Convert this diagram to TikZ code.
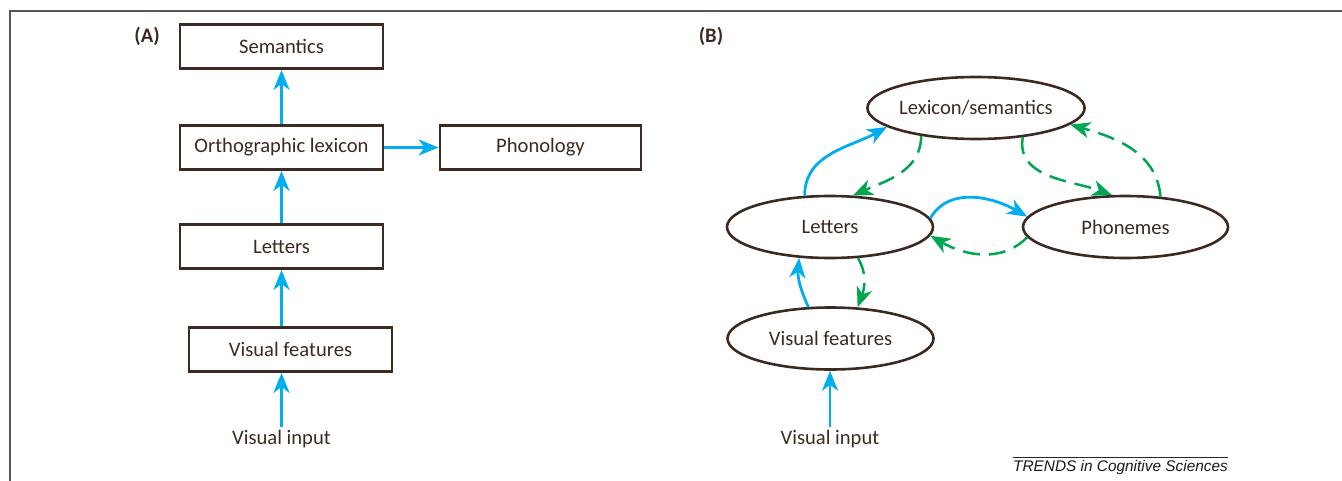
\documentclass[tikz,border=0pt]{standalone}
\usepackage{fontspec}
\setmainfont{Carlito}
\newfontfamily\trendsfont{Liberation Sans}
\usetikzlibrary{arrows.meta,shapes.geometric,calc}
\definecolor{ink}{HTML}{3C2A21}
\definecolor{cblue}{HTML}{00AEEF}
\definecolor{cgreen}{HTML}{00A651}
\definecolor{framegray}{HTML}{555555}
\begin{document}
\begin{tikzpicture}[x=0.5pt,y=0.5pt,
  lbl/.style={text=ink, font=\fontsize{10.3}{12}\selectfont, inner sep=0pt},
  boxA/.style={lbl, draw=ink, line width=1.4pt, minimum width=101.5pt, minimum height=22pt},
  ell/.style={lbl, ellipse, draw=ink, line width=1.3pt, minimum width=103pt, minimum height=31pt},
  tip/.style={-{Stealth[length=10pt,width=8pt,inset=3pt]}},
  barrow/.style={tip, draw=cblue, line width=1.4pt},
  garrow/.style={tip, draw=cgreen, line width=1.25pt, dash pattern=on 8.5pt off 4.5pt},
  panel/.style={text=ink, font=\fontsize{10.3}{12}\selectfont\bfseries, inner sep=0pt},
]
\useasboundingbox (0,0) rectangle (1342,-481);
\draw[framegray, line width=1pt] (1342,-11.5) -- (9.5,-11.5) -- (9.5,-481);

% Panel A
\node[panel] (labA) at (147,-36) {(A)};
\node[boxA] (sem) at (281.5,-46.5) {Semantics};
\node[boxA] (ortho) at (281.5,-147.5) {Orthographic lexicon};
\node[boxA, minimum width=100.5pt] (phon) at (540.5,-147.5) {Phonology};
\node[boxA] (letA) at (281.5,-246.5) {Letters};
\node[boxA] (vfA) at (290.5,-349.5) {Visual features};
\node[lbl, inner sep=1.5pt] (inA) at (281.5,-439.5) {Visual input};

\draw[barrow] (ortho) -- (sem);
\draw[barrow] (ortho) -- (phon);
\draw[barrow] (letA) -- (ortho);
\draw[barrow] (letA.south |- vfA.north) -- (letA.south);
\draw[barrow] (inA.north) -- (inA.north |- vfA.south);

% Panel B
\node[panel] (labB) at (711,-36) {(B)};
\node[ell, minimum width=103pt] (lex) at (976,-108) {Lexicon/semantics};
\node[ell] (letB) at (830,-227) {Letters};
\node[ell, minimum width=102.5pt] (phn) at (1125.5,-227) {Phonemes};
\node[ell] (vfB) at (830.5,-338.5) {Visual features};
\node[lbl, inner sep=1.5pt] (inB) at (830,-439.5) {Visual input};

\draw[barrow] (letB.129) to[out=90,in=209] (lex.192);
\draw[garrow] (lex.207) to[out=-90,in=24] (letB.54);
\draw[garrow] (lex.328) to[out=-100,in=160] (phn.113);
\draw[garrow] (phn.41) to[out=95,in=-16] (lex.350);
\draw[barrow] (letB.5) to[out=60,in=150] (phn.174);
\draw[garrow] (phn.186) to[out=225,in=-30] (letB.355);
\draw[barrow] (vfB.125) to[out=115,in=-95] (letB.225);
\draw[garrow] (letB.312) to[out=-60,in=70] (vfB.49);
\draw[barrow] (inB.north) -- (inB.north |- vfB.south);

% Footer
\coordinate (fl) at (1013,-457);
\coordinate (fr) at (1228,-457);
\draw[black!85, line width=0.5pt] (fl) -- (fr);
\node[inner sep=0pt, anchor=north, text=black!90, font=\trendsfont\itshape\fontsize{7.7}{9}\selectfont] (trends) at (1120.5,-460) {TRENDS in Cognitive Sciences};
\end{tikzpicture}
\end{document}
